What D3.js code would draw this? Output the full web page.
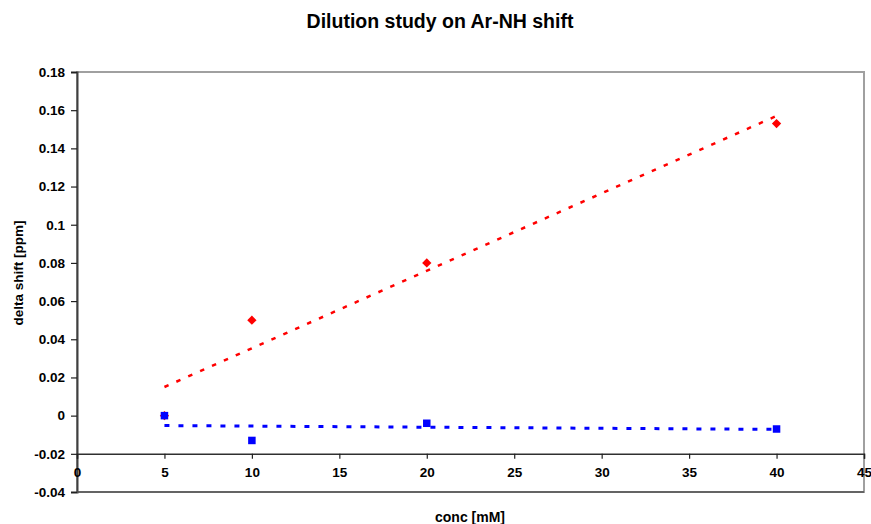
<!DOCTYPE html>
<html>
<head>
<meta charset="utf-8">
<script src="https://cdn.jsdelivr.net/npm/d3@7"></script>
<style>
  html, body { margin: 0; padding: 0; background: #fff; }
  svg { display: block; font-family: "Liberation Sans", Arial, sans-serif; }
</style>
</head>
<body>
<svg id="chart" width="871" height="524"></svg>
<script>
// ---- data ----
const concentrations = [5, 10, 20, 40];
const redShift = [0, 0.05, 0.08, 0.153];
const blueShift = [0, -0.013, -0.004, -0.007];
// trendline end points (x, y)
const redTrend = [[5, 0.015], [40, 0.157]];
const blueTrend = [[5, -0.0052], [40, -0.0072]];
const xTicks = [0, 5, 10, 15, 20, 25, 30, 35, 40, 45];
const yTicks = [-0.04, -0.02, 0, 0.02, 0.04, 0.06, 0.08, 0.1, 0.12, 0.14, 0.16, 0.18];
const yTickLabels = ["-0.04", "-0.02", "0", "0.02", "0.04", "0.06", "0.08", "0.1", "0.12", "0.14", "0.16", "0.18"];
const titleText = "Dilution study on Ar-NH shift";
const xTitle = "conc [mM]";
const yTitle = "delta shift [ppm]";

(function () {
// ---- layout ----
const pLeft = 77, pRight = 864, pTop = 72, pBottom = 492;
const svg = d3.select("#chart");

const x = d3.scaleLinear().domain([0, 45]).range([pLeft, pRight]);
const y = d3.scaleLinear().domain([-0.04, 0.18]).range([pBottom, pTop]);

// plot area border
svg.append("rect")
  .attr("x", pLeft).attr("y", pTop)
  .attr("width", pRight - pLeft).attr("height", pBottom - pTop)
  .attr("fill", "#fff")
  .attr("stroke", "#a0a0a0").attr("stroke-width", 2);

// y axis
const yAxis = d3.axisLeft(y)
  .tickValues(yTicks)
  .tickSize(6)
  .tickPadding(6)
  .tickFormat((d, i) => yTickLabels[i]);
const gy = svg.append("g").attr("transform", `translate(${pLeft},0)`).call(yAxis);
gy.select(".domain").attr("stroke", "#404040").attr("stroke-width", 2);
gy.selectAll(".tick line").attr("stroke", "#202020").attr("stroke-width", 1.2);
gy.selectAll(".tick text")
  .attr("font-family", "Liberation Sans, Arial, sans-serif")
  .attr("font-size", 13.5).attr("font-weight", "bold").attr("fill", "#000");

// bottom border line at -0.04 (dark like axis)
svg.append("line")
  .attr("x1", pLeft).attr("x2", pRight)
  .attr("y1", y(-0.04)).attr("y2", y(-0.04))
  .attr("stroke", "#505050").attr("stroke-width", 1.5);

// x axis at y = -0.02
const xAxis = d3.axisBottom(x)
  .tickValues(xTicks)
  .tickSize(5)
  .tickPadding(9)
  .tickFormat(d3.format("d"));
const gx = svg.append("g").attr("transform", `translate(0,${y(-0.02)})`).call(xAxis);
gx.select(".domain").attr("stroke", "#303030").attr("stroke-width", 1.5);
gx.selectAll(".tick line").attr("stroke", "#202020").attr("stroke-width", 1.2);
gx.selectAll(".tick text")
  .attr("font-family", "Liberation Sans, Arial, sans-serif")
  .attr("font-size", 13.5).attr("font-weight", "bold").attr("fill", "#000");

// trendlines
const line = d3.line().x(d => x(d[0])).y(d => y(d[1]));
svg.append("path").datum(redTrend)
  .attr("d", line)
  .attr("fill", "none").attr("stroke", "#ff0000")
  .attr("stroke-width", 2.5).attr("stroke-dasharray", "4.5,8.5");
svg.append("path").datum(blueTrend)
  .attr("d", line)
  .attr("fill", "none").attr("stroke", "#0000ff")
  .attr("stroke-width", 3).attr("stroke-dasharray", "5,9");

// markers
const redPts = concentrations.map((c, i) => [c, redShift[i]]);
const bluePts = concentrations.map((c, i) => [c, blueShift[i]]);

const diamond = d3.symbol().type(d3.symbolDiamond2).size(55);
svg.append("g").selectAll("path").data(redPts).join("path")
  .attr("d", diamond)
  .attr("transform", d => `translate(${x(d[0])},${y(d[1])})`)
  .attr("fill", "#ff0000");

svg.append("g").selectAll("rect").data(bluePts).join("rect")
  .attr("x", d => x(d[0]) - 3.75)
  .attr("y", d => y(d[1]) - 3.75)
  .attr("width", 7.5).attr("height", 7.5)
  .attr("fill", "#0000ff");

// title
svg.append("text")
  .attr("x", 440).attr("y", 28)
  .attr("text-anchor", "middle")
  .attr("font-size", 19.5).attr("font-weight", "bold").attr("fill", "#000")
  .text(titleText);

// x title
svg.append("text")
  .attr("x", 470).attr("y", 522)
  .attr("text-anchor", "middle")
  .attr("font-size", 14).attr("font-weight", "bold").attr("fill", "#000")
  .text(xTitle);

// y title
svg.append("text")
  .attr("transform", `translate(23,273) rotate(-90)`)
  .attr("text-anchor", "middle")
  .attr("font-size", 13.5).attr("font-weight", "bold").attr("fill", "#000")
  .text(yTitle);
})();
</script>
</body>
</html>
